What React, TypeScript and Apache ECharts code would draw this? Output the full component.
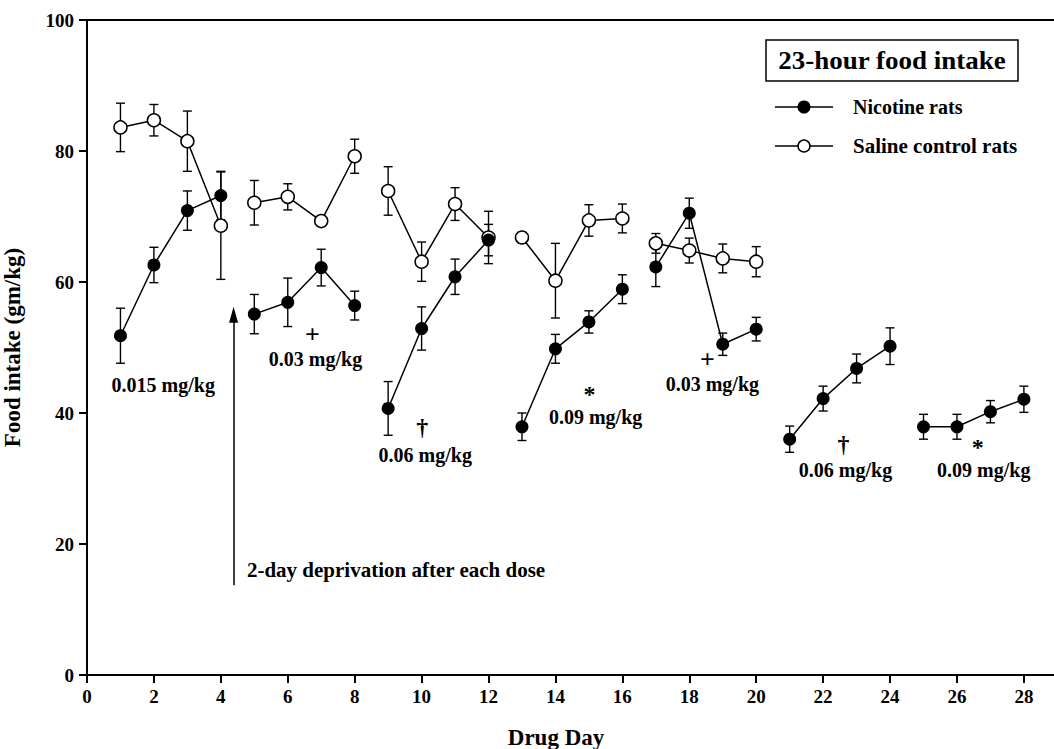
import React, { useEffect, useRef } from "react";
import * as echarts from "echarts";

const FONT = '"Liberation Serif", "Times New Roman", serif';

const nicDays = [1, 2, 3, 4, 5, 6, 7, 8, 9, 10, 11, 12, 13, 14, 15, 16, 17, 18, 19, 20, 21, 22, 23, 24, 25, 26, 27, 28];
const nicMean = [51.8, 62.6, 70.9, 73.2, 55.1, 56.9, 62.2, 56.4, 40.7, 52.9, 60.8, 66.4, 37.9, 49.8, 53.9, 58.9, 62.3, 70.5, 50.5, 52.8, 36.0, 42.2, 46.8, 50.2, 37.9, 37.9, 40.2, 42.1];
const nicSem = [4.2, 2.7, 3.0, 3.7, 3.0, 3.7, 2.8, 2.2, 4.1, 3.3, 2.7, 2.4, 2.1, 2.2, 1.7, 2.2, 3.0, 2.3, 1.7, 1.8, 2.0, 1.9, 2.2, 2.8, 1.9, 1.9, 1.7, 2.0];

const salDays = [1, 2, 3, 4, 5, 6, 7, 8, 9, 10, 11, 12, 13, 14, 15, 16, 17, 18, 19, 20];
const salMean = [83.6, 84.7, 81.5, 68.6, 72.1, 73.0, 69.3, 79.2, 73.9, 63.1, 71.9, 66.8, 66.8, 60.2, 69.4, 69.7, 65.9, 64.8, 63.6, 63.1];
const salSem = [3.7, 2.4, 4.6, 8.2, 3.4, 2.0, 0.8, 2.6, 3.7, 3.0, 2.5, 4.0, 0.8, 5.7, 2.4, 2.2, 1.5, 1.9, 2.2, 2.3];

const blocks = [[1, 4], [5, 8], [9, 12], [13, 16], [17, 20], [21, 24], [25, 28]];

const xTicks = [0, 2, 4, 6, 8, 10, 12, 14, 16, 18, 20, 22, 24, 26, 28];

// dose annotations: [text, day, value, fontSize]
const notes: [string, number, number, number][] = [
  ["0.015 mg/kg", 2.28, 44.3, 20],
  ["0.03 mg/kg", 6.83, 48.3, 20],
  ["+", 6.74, 52.0, 26],
  ["0.06 mg/kg", 10.11, 33.6, 20],
  ["†", 10.02, 37.9, 24],
  ["0.09 mg/kg", 15.2, 39.4, 20],
  ["*", 15.02, 42.9, 24],
  ["0.03 mg/kg", 18.69, 44.4, 20],
  ["+", 18.54, 48.2, 26],
  ["0.06 mg/kg", 22.67, 31.3, 20],
  ["†", 22.61, 35.3, 24],
  ["0.09 mg/kg", 26.8, 31.3, 20],
  ["*", 26.62, 34.8, 24],
];

const arrowFrom = [4.38, 13.7];
const arrowTo = [4.38, 55.0];
const arrowText = "2-day deprivation after each dose";
const arrowTextPos = [4.78, 16.0];

const legendTitle = "23-hour food intake";
const legendNames = ["Nicotine rats", "Saline control rats"];

export default function App() {
  const ref = useRef<HTMLDivElement>(null);
  useEffect(() => {
    if (!ref.current) return;
    const chart = echarts.init(ref.current, null, { renderer: "svg" });

    const errorSeries = (days: number[], mean: number[], sem: number[]) => ({
      type: "custom",
      z: 1,
      silent: true,
      encode: { x: 0, y: 1 },
      data: days.map((d, i) => [d, mean[i], sem[i]]),
      renderItem: (params: any, api: any) => {
        const x = api.value(0);
        const m = api.value(1);
        const s = api.value(2);
        const top = api.coord([x, m + s]);
        const bot = api.coord([x, m - s]);
        const hw = 4.5;
        const style = { stroke: "#000", lineWidth: 1.4 };
        return {
          type: "group",
          children: [
            { type: "line", shape: { x1: top[0], y1: top[1], x2: bot[0], y2: bot[1] }, style },
            { type: "line", shape: { x1: top[0] - hw, y1: top[1], x2: top[0] + hw, y2: top[1] }, style },
            { type: "line", shape: { x1: bot[0] - hw, y1: bot[1], x2: bot[0] + hw, y2: bot[1] }, style },
          ],
        };
      },
    });

    const lineSeries: any[] = [];
    blocks.forEach(([a, b]) => {
      const sal = salDays.map((d, i) => [d, salMean[i]]).filter((p) => p[0] >= a && p[0] <= b);
      if (sal.length) {
        lineSeries.push({
          type: "line",
          z: 3,
          data: sal,
          symbol: "circle",
          symbolSize: 13,
          lineStyle: { color: "#000", width: 1.5 },
          itemStyle: { color: "#fff", borderColor: "#000", borderWidth: 1.5 },
        });
      }
      const nic = nicDays.map((d, i) => [d, nicMean[i]]).filter((p) => p[0] >= a && p[0] <= b);
      lineSeries.push({
        type: "line",
        z: 4,
        data: nic,
        symbol: "circle",
        symbolSize: 13,
        lineStyle: { color: "#000", width: 1.5 },
        itemStyle: { color: "#000", borderColor: "#000", borderWidth: 0 },
      });
    });

    const arrowSeries = {
      type: "line",
      z: 5,
      silent: true,
      data: [],
      markLine: {
        silent: true,
        animation: false,
        label: { show: false },
        lineStyle: { color: "#000", width: 1.5, type: "solid" },
        data: [
          [
            { coord: arrowFrom, symbol: "none" },
            { coord: arrowTo, symbol: "triangle", symbolSize: [9, 16] },
          ],
        ],
      },
    };

    const axisFont = { fontFamily: FONT, fontWeight: "bold", fontSize: 19, color: "#000" };

    const legendGraphics: any[] = [
      {
        type: "text",
        x: 556,
        y: 737,
        style: {
          text: "Drug Day",
          fontFamily: FONT,
          fontWeight: "bold",
          fontSize: 23,
          fill: "#000",
          textAlign: "center",
          textVerticalAlign: "middle",
        },
      },
      {
        type: "rect",
        shape: { x: 766, y: 40, width: 252, height: 41 },
        style: { fill: "none", stroke: "#000", lineWidth: 1.5 },
      },
      {
        type: "text",
        x: 892,
        y: 61,
        scaleX: 1.08,
        style: {
          text: legendTitle,
          fontFamily: FONT,
          fontWeight: "bold",
          fontSize: 25,
          fill: "#000",
          textAlign: "center",
          textVerticalAlign: "middle",
        },
      },
      { type: "line", shape: { x1: 775, y1: 107, x2: 833, y2: 107 }, style: { stroke: "#000", lineWidth: 1.5 } },
      { type: "circle", shape: { cx: 804, cy: 107, r: 6.5 }, style: { fill: "#000" } },
      {
        type: "text",
        x: 853,
        y: 107,
        style: { text: legendNames[0], fontFamily: FONT, fontWeight: "bold", fontSize: 20, fill: "#000", textVerticalAlign: "middle" },
      },
      { type: "line", shape: { x1: 775, y1: 146, x2: 833, y2: 146 }, style: { stroke: "#000", lineWidth: 1.5 } },
      { type: "circle", shape: { cx: 804, cy: 146, r: 6 }, style: { fill: "#fff", stroke: "#000", lineWidth: 1.5 } },
      {
        type: "text",
        x: 853,
        y: 146,
        style: { text: legendNames[1], fontFamily: FONT, fontWeight: "bold", fontSize: 21, fill: "#000", textVerticalAlign: "middle" },
      },
    ];

    chart.setOption({
      animation: false,
      backgroundColor: "#fff",
      grid: { left: 87, right: 0, top: 20, bottom: 74, containLabel: false, outerBoundsMode: "none" },
      xAxis: [
        {
          type: "value",
          min: 0,
          max: 28.9,
          interval: 2,
          axisLine: { show: true, onZero: false, lineStyle: { color: "#000", width: 2 } },
          axisTick: { show: true, length: 8, lineStyle: { color: "#000", width: 2 }, customValues: xTicks },
          axisLabel: { ...axisFont, margin: 12, customValues: xTicks },
          splitLine: { show: false },
        },
        {
          type: "value",
          position: "top",
          min: 0,
          max: 28.9,
          axisLine: { show: true, onZero: false, lineStyle: { color: "#000", width: 2 } },
          axisTick: { show: false },
          axisLabel: { show: false },
          splitLine: { show: false },
        },
      ],
      yAxis: {
        type: "value",
        min: 0,
        max: 100,
        interval: 20,
        name: "Food intake (gm/kg)",
        nameLocation: "middle",
        nameGap: 63,
        nameRotate: 90,
        nameTextStyle: { fontFamily: FONT, fontWeight: "bold", fontSize: 23, color: "#000" },
        axisLine: { show: true, lineStyle: { color: "#000", width: 2 } },
        axisTick: { show: true, length: 8, lineStyle: { color: "#000", width: 2 } },
        axisLabel: { ...axisFont, margin: 13 },
        splitLine: { show: false },
      },
      graphic: legendGraphics,
      series: [
        errorSeries(salDays, salMean, salSem),
        errorSeries(nicDays, nicMean, nicSem),
        ...lineSeries,
        arrowSeries,
      ],
    });

    const noteGraphics = notes.map(([t, d, v, fs]) => {
      const p = chart.convertToPixel({ xAxisIndex: 0, yAxisIndex: 0 }, [d, v]) as number[];
      return {
        type: "text",
        x: p[0],
        y: p[1],
        z: 10,
        style: {
          text: t,
          fontFamily: FONT,
          fontWeight: "bold",
          fontSize: fs,
          fill: "#000",
          textAlign: "center",
          textVerticalAlign: "middle",
        },
      };
    });
    const ap = chart.convertToPixel({ xAxisIndex: 0, yAxisIndex: 0 }, arrowTextPos) as number[];
    noteGraphics.push({
      type: "text",
      x: ap[0],
      y: ap[1],
      z: 10,
      style: {
        text: arrowText,
        fontFamily: FONT,
        fontWeight: "bold",
        fontSize: 21,
        fill: "#000",
        textAlign: "left",
        textVerticalAlign: "middle",
      },
    });
    chart.setOption({ graphic: [...legendGraphics, ...noteGraphics] });

    return () => chart.dispose();
  }, []);
  return <div ref={ref} style={{ width: 1054, height: 749, position: "absolute", left: 0, top: 0 }} />;
}
